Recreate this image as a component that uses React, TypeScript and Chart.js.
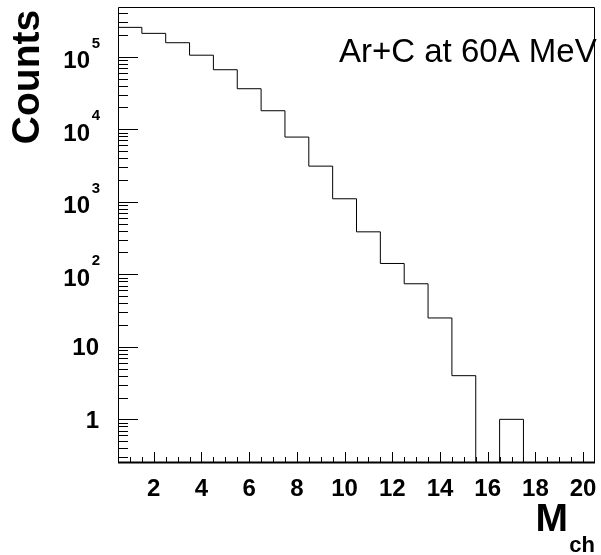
import React, { useEffect, useRef } from "react";
import { Chart, registerables } from "chart.js";

Chart.register(...registerables);

// ---- data ----
const binCenters = [1, 2, 3, 4, 5, 6, 7, 8, 9, 10, 11, 12, 13, 14, 15, 16, 17, 18, 19, 20];
const counts = [254000, 210000, 156000, 105000, 66200, 36200, 18000, 7800, 3100, 1100, 385, 141, 74, 25, 4, 0, 1, 0, 0, 0];
const binWidth = 1;

const xTickValues = [2, 4, 6, 8, 10, 12, 14, 16, 18, 20];
const xTickLabels = ["2", "4", "6", "8", "10", "12", "14", "16", "18", "20"];
const yTickValues = [100000, 10000, 1000, 100, 10, 1];
const yTickBases = ["10", "10", "10", "10", "10", "1"];
const yTickExps = ["5", "4", "3", "2", "", ""];

const X_MIN = 0.5;
const X_MAX = 20.5;
const Y_MIN = 0.25;
const Y_MAX = 485000;

const TITLE = "Ar+C at 60A MeV";
const Y_TITLE = "Counts";
const X_TITLE_MAIN = "M";
const X_TITLE_SUB = "ch";

const FONT = "'Liberation Sans', Arial, Helvetica, sans-serif";

const framePlugin = {
  id: "rootFrame",
  afterDraw(chart: any) {
    const ctx = chart.ctx as CanvasRenderingContext2D;
    const { left, right, top, bottom } = chart.chartArea;
    const xs = chart.scales.x;
    const ys = chart.scales.y;
    ctx.save();
    ctx.strokeStyle = "#000";
    ctx.fillStyle = "#000";

    // annotation text (drawn first so the frame crosses it as in the reference)
    ctx.font = `33px ${FONT}`;
    ctx.textAlign = "left";
    ctx.textBaseline = "alphabetic";
    ctx.fillText(TITLE, 339, 62);

    // frame
    ctx.lineWidth = 1;
    ctx.beginPath();
    ctx.moveTo(left + 0.5, bottom);
    ctx.lineTo(left + 0.5, top + 0.5);
    ctx.lineTo(right - 0.5, top + 0.5);
    ctx.lineTo(right - 0.5, bottom);
    ctx.stroke();
    ctx.lineWidth = 2;
    ctx.beginPath();
    ctx.moveTo(left, bottom - 0.5);
    ctx.lineTo(right, bottom - 0.5);
    ctx.stroke();

    // x ticks (inward)
    ctx.lineWidth = 1;
    ctx.beginPath();
    for (let v = 1; v <= X_MAX - 0.25; v += 0.5) {
      const px = Math.round(xs.getPixelForValue(v)) + 0.5;
      const major = xTickValues.includes(v);
      const len = major ? 10 : 5;
      ctx.moveTo(px, bottom - 1);
      ctx.lineTo(px, bottom - 1 - len);
    }
    ctx.stroke();

    // y ticks (inward)
    ctx.beginPath();
    for (let d = -1; d <= 5; d++) {
      for (let m = 1; m <= 9; m++) {
        const v = m * Math.pow(10, d);
        if (v < Y_MIN || v > Y_MAX) continue;
        const py = Math.round(ys.getPixelForValue(v)) + 0.5;
        const len = m === 1 ? 20 : 10;
        ctx.moveTo(left, py);
        ctx.lineTo(left + len, py);
      }
    }
    ctx.stroke();

    // x tick labels
    ctx.font = `bold 24px ${FONT}`;
    ctx.textAlign = "center";
    ctx.textBaseline = "middle";
    xTickValues.forEach((v, i) => {
      ctx.fillText(xTickLabels[i], xs.getPixelForValue(v), bottom + 26);
    });

    // y tick labels
    yTickValues.forEach((v, i) => {
      const py = ys.getPixelForValue(v);
      const exp = yTickExps[i];
      ctx.textAlign = "right";
      ctx.textBaseline = "middle";
      if (exp) {
        ctx.font = `bold 15px ${FONT}`;
        ctx.fillText(exp, 100, py - 13);
        ctx.font = `bold 24px ${FONT}`;
        ctx.fillText(yTickBases[i], 90, py + 5);
      } else {
        ctx.font = `bold 24px ${FONT}`;
        ctx.fillText(yTickBases[i], 99, py + 2);
      }
    });

    // y title
    ctx.save();
    ctx.translate(28, 77);
    ctx.rotate(-Math.PI / 2);
    ctx.font = `bold 39px ${FONT}`;
    ctx.textAlign = "center";
    ctx.textBaseline = "middle";
    ctx.fillText(Y_TITLE, 0, 0);
    ctx.restore();

    // x title
    ctx.textBaseline = "alphabetic";
    ctx.textAlign = "right";
    ctx.font = `bold 22px ${FONT}`;
    ctx.fillText(X_TITLE_SUB, 595, 552);
    ctx.font = `bold 39px ${FONT}`;
    ctx.fillText(X_TITLE_MAIN, 568, 531);

    ctx.restore();
  },
};

export default function App() {
  const ref = useRef<HTMLCanvasElement | null>(null);
  useEffect(() => {
    if (!ref.current) return;
    const pts = binCenters.map((c, i) => ({ x: c - binWidth / 2, y: counts[i] > 0 ? counts[i] : Y_MIN }));
    const last = binCenters.length - 1;
    pts.push({ x: binCenters[last] + binWidth / 2, y: counts[last] > 0 ? counts[last] : Y_MIN });
    const chart = new Chart(ref.current, {
      type: "line",
      data: {
        datasets: [
          {
            data: pts,
            borderColor: "#000",
            borderWidth: 1,
            stepped: "before",
            fill: false,
            pointRadius: 0,
            tension: 0,
          },
        ],
      },
      options: {
        responsive: false,
        animation: false,
        devicePixelRatio: 1,
        layout: { padding: { left: 118, top: 7, right: 6, bottom: 92 } },
        plugins: { legend: { display: false }, tooltip: { enabled: false } },
        scales: {
          x: { type: "linear", min: X_MIN, max: X_MAX, display: false },
          y: { type: "logarithmic", min: Y_MIN, max: Y_MAX, display: false },
        },
      },
      plugins: [framePlugin],
    });
    return () => chart.destroy();
  }, []);
  return (
    <canvas
      ref={ref}
      width={601}
      height={555}
      style={{ position: "absolute", left: 0, top: 0, width: 601, height: 555, background: "#fff" }}
    />
  );
}
